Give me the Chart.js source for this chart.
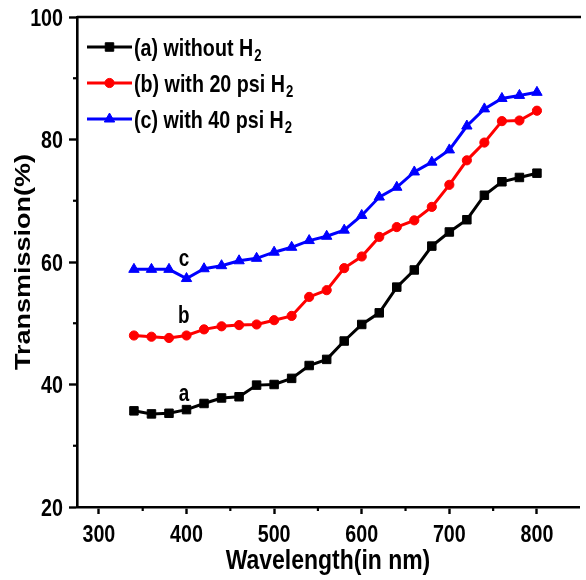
<!DOCTYPE html>
<html>
<head>
<meta charset="utf-8">
<script src="https://cdn.jsdelivr.net/npm/chart.js@4.4.1/dist/chart.umd.min.js"></script>
<style>
  html, body { margin: 0; padding: 0; background: #fff; }
  #wrap { width: 586px; height: 580px; }
</style>
</head>
<body>
<div id="wrap"><canvas id="chart" width="586" height="580"></canvas></div>
<script>
const FONT = "'Liberation Sans', Arial, Helvetica, sans-serif";
const NARROW = 0.82; // the original lettering is condensed

const wavelengths = [340, 360, 380, 400, 420, 440, 460, 480, 500, 520, 540, 560,
                     580, 600, 620, 640, 660, 680, 700, 720, 740, 760, 780, 800];
const withoutH2 = [35.7, 35.2, 35.3, 35.9, 36.9, 37.8, 38.0, 39.9, 40.0, 41.0, 43.1, 44.1,
                   47.1, 49.8, 51.7, 55.9, 58.7, 62.6, 64.9, 66.9, 70.9, 73.1, 73.8, 74.5];
const with20psi = [48.0, 47.8, 47.6, 48.0, 49.0, 49.5, 49.7, 49.8, 50.5, 51.2, 54.3, 55.4,
                   59.0, 60.9, 64.1, 65.7, 66.8, 69.0, 72.6, 76.6, 79.5, 83.0, 83.1, 84.7];
const with40psi = [58.8, 58.8, 58.8, 57.3, 58.9, 59.4, 60.2, 60.6, 61.6, 62.4, 63.5, 64.2,
                   65.2, 67.6, 70.6, 72.2, 74.7, 76.3, 78.3, 82.2, 85.0, 86.7, 87.2, 87.7];

const xMajorTicks = [300, 400, 500, 600, 700, 800];
const xMinorTicks = [350, 450, 550, 650, 750];
const yMajorTicks = [20, 40, 60, 80, 100];
const yMinorTicks = [30, 50, 70, 90];

const xTitle = 'Wavelength(in nm)';
const yTitle = 'Transmission(%)';
const seriesLabels = ['(a) without H', '(b) with 20 psi H', '(c) with 40 psi H'];
const curveTags = [
    { text: 'a', x: 397, y: 38.4 },
    { text: 'b', x: 397, y: 51.0 },
    { text: 'c', x: 397, y: 60.4 }
];

const toPoints = (ys) => wavelengths.map((x, i) => ({ x: x, y: ys[i] }));

// condensed text: squeeze horizontally around the anchor point
const narrowText = (ctx, text, x, y, size, align, baseline, rotate) => {
    ctx.save();
    ctx.translate(x, y);
    ctx.scale(NARROW, 1);
    if (rotate) ctx.rotate(-Math.PI / 2);
    ctx.font = 'bold ' + size + 'px ' + FONT;
    ctx.textAlign = align;
    ctx.textBaseline = baseline;
    ctx.fillText(text, 0, 0);
    const w = ctx.measureText(text).width;
    ctx.restore();
    return w * NARROW;
};

const decorations = {
    id: 'decorations',
    afterDraw(chart) {
        const { ctx, chartArea, scales } = chart;
        const xs = scales.x, ys = scales.y;
        ctx.save();
        ctx.strokeStyle = '#000';
        ctx.lineWidth = 2.6;
        ctx.beginPath();
        ctx.moveTo(chartArea.left, chartArea.top);
        ctx.lineTo(chartArea.right + 2, chartArea.top);
        ctx.stroke();

        ctx.lineWidth = 2.2;
        xMinorTicks.forEach(v => {
            const px = xs.getPixelForValue(v);
            ctx.beginPath();
            ctx.moveTo(px, chartArea.bottom);
            ctx.lineTo(px, chartArea.bottom + 4);
            ctx.stroke();
        });
        yMinorTicks.forEach(v => {
            const py = ys.getPixelForValue(v);
            ctx.beginPath();
            ctx.moveTo(chartArea.left, py);
            ctx.lineTo(chartArea.left - 4, py);
            ctx.stroke();
        });

        ctx.fillStyle = '#000';
        // tick labels
        xMajorTicks.forEach(v => {
            narrowText(ctx, String(v), xs.getPixelForValue(v), chartArea.bottom + 35, 24, 'center', 'alphabetic');
        });
        yMajorTicks.forEach(v => {
            narrowText(ctx, String(v), chartArea.left - 14, ys.getPixelForValue(v) + 8.5, 24, 'right', 'alphabetic');
        });
        // axis titles
        narrowText(ctx, xTitle, (chartArea.left + chartArea.right) / 2, 569, 28, 'center', 'alphabetic');
        narrowText(ctx, yTitle, 22 + NARROW * 9.5, (chartArea.top + chartArea.bottom) / 2, 27, 'center', 'alphabetic', true);

        curveTags.forEach(t => {
            narrowText(ctx, t.text, xs.getPixelForValue(t.x), ys.getPixelForValue(t.y), 23, 'center', 'middle');
        });

        // legend
        const x0 = 87, x1 = 132, top = 47, gap = 36;
        chart.data.datasets.forEach((ds, i) => {
            const y = top + i * gap;
            ctx.strokeStyle = ds.borderColor;
            ctx.lineWidth = ds.borderWidth;
            ctx.beginPath();
            ctx.moveTo(x0, y);
            ctx.lineTo(x1, y);
            ctx.stroke();
            ctx.fillStyle = ds.pointBackgroundColor;
            ctx.lineWidth = 1;
            Chart.helpers.drawPoint(ctx, {
                pointStyle: ds.pointStyle,
                radius: ds.pointRadius,
                borderWidth: 1,
                rotation: 0
            }, (x0 + x1) / 2, y);

            ctx.fillStyle = '#000';
            const w = narrowText(ctx, seriesLabels[i], 134, y + 8.5, 24, 'left', 'alphabetic');
            narrowText(ctx, '2', 134 + w + 1, y + 14, 16, 'left', 'alphabetic');
        });
        ctx.restore();
    }
};

const makeSet = (label, ys, color, style, radius) => ({
    label: label,
    data: toPoints(ys),
    borderColor: color,
    backgroundColor: color,
    pointBackgroundColor: color,
    pointBorderColor: color,
    pointStyle: style,
    pointRadius: radius,
    pointBorderWidth: 1,
    borderWidth: 3,
    tension: 0
});

new Chart(document.getElementById('chart'), {
    type: 'line',
    data: {
        datasets: [
            makeSet('(a) without H2', withoutH2, '#000000', 'rect', 6),
            makeSet('(b) with 20 psi H2', with20psi, '#ff0000', 'circle', 4.6),
            makeSet('(c) with 40 psi H2', with40psi, '#0000ff', 'triangle', 6)
        ]
    },
    options: {
        responsive: false,
        animation: false,
        layout: { padding: { left: 0, right: 0, top: 17, bottom: 0 } },
        plugins: {
            legend: { display: false },
            tooltip: { enabled: false }
        },
        scales: {
            x: {
                type: 'linear',
                min: 275,
                max: 848,
                afterBuildTicks: (scale) => {
                    scale.ticks = xMajorTicks.map(v => ({ value: v }));
                },
                afterFit: (scale) => { scale.height = 73; },
                grid: {
                    drawOnChartArea: false,
                    drawTicks: true,
                    tickLength: 7,
                    tickWidth: 2.4,
                    tickColor: '#000'
                },
                border: { display: true, color: '#000', width: 2.6 },
                ticks: { display: false }
            },
            y: {
                min: 20,
                max: 100,
                afterBuildTicks: (scale) => {
                    scale.ticks = yMajorTicks.map(v => ({ value: v }));
                },
                afterFit: (scale) => { scale.width = 77; },
                grid: {
                    drawOnChartArea: false,
                    drawTicks: true,
                    tickLength: 8,
                    tickWidth: 2.4,
                    tickColor: '#000'
                },
                border: { display: true, color: '#000', width: 2.6 },
                ticks: { display: false }
            }
        }
    },
    plugins: [decorations]
});
</script>
</body>
</html>
